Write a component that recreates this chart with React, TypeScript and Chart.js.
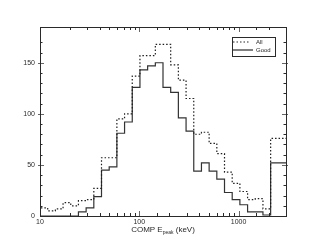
import React, { useEffect, useRef } from "react";
import { Chart, registerables } from "chart.js";

Chart.register(...registerables);

// Histogram bin edges (keV), log-uniform bins from 10 to 3000
const binEdges = [
  10, 11.95, 14.28, 17.07, 20.4, 24.38, 29.14, 34.83, 41.62, 49.74, 59.45,
  71.05, 84.91, 101.5, 121.3, 145.0, 173.2, 207.0, 247.4, 295.7, 353.4,
  422.4, 504.8, 603.3, 721.0, 861.7, 1030, 1231, 1471, 1758, 2101, 2511, 3000,
];

// Counts per bin
const allCounts = [
  14, 8, 5, 7, 13, 10, 15, 16, 27, 57, 57, 95, 100, 137, 157, 157, 168, 168,
  148, 133, 115, 80, 82, 71, 61, 43, 32, 24, 16, 17, 7, 76,
];
const goodCounts = [
  1, 0, 0, 0, 0, 0, 4, 8, 19, 45, 48, 81, 92, 126, 143, 147, 150, 126, 121,
  96, 83, 44, 52, 44, 36, 23, 16, 11, 4, 4, 1, 52,
];

const seriesNames = ["All", "Good"];
const xLabelValues = [10, 100, 1000];
const yLabelValues = [0, 50, 100, 150];
const xTitleParts = ["COMP E", "peak", " (keV)"];
const xRange = [10, 3000];
const yRange = [0, 185];

const FONT = "'Liberation Sans', Arial, Helvetica, sans-serif";
const INK = "#2a2a2a";

function stepPoints(counts: number[]) {
  return binEdges.map((e, i) => ({ x: e, y: counts[Math.min(i, counts.length - 1)] }));
}

const isDecade = (v: number) => xLabelValues.some((d) => Math.abs(d - v) < 1e-6);

const framePlugin = {
  id: "framePlugin",
  afterDatasetsDraw(chart: any) {
    const ctx = chart.ctx as CanvasRenderingContext2D;
    const { left, right, top, bottom } = chart.chartArea;
    const xs = chart.scales.x;
    const ys = chart.scales.y;
    ctx.save();
    ctx.lineWidth = 1;
    ctx.strokeStyle = INK;
    const line = (x1: number, y1: number, x2: number, y2: number) => {
      ctx.beginPath();
      ctx.moveTo(x1, y1);
      ctx.lineTo(x2, y2);
      ctx.stroke();
    };
    // x ticks (bottom and top, inward)
    for (const t of xs.ticks) {
      const v = t.value;
      if (v <= xRange[0] || v >= xRange[1]) continue;
      const px = Math.round(xs.getPixelForValue(v)) + 0.5;
      const len = isDecade(v) ? 5 : 3;
      ctx.strokeStyle = isDecade(v) ? "#666" : INK;
      line(px, bottom, px, bottom - len);
      line(px, top, px, top + len);
    }
    // y ticks (left and right, inward)
    for (const t of ys.ticks) {
      const v = t.value;
      if (v % 10 !== 0 || v <= yRange[0]) continue;
      const py = Math.round(ys.getPixelForValue(v)) + 0.5;
      const major = yLabelValues.includes(v);
      ctx.strokeStyle = major ? "#666" : INK;
      if (major) {
        line(left - 2, py, left + 4, py);
        line(right + 2, py, right - 4, py);
      } else {
        line(left, py, left + 2.5, py);
        line(right, py, right - 2.5, py);
      }
    }
    // frame
    ctx.strokeStyle = INK;
    ctx.strokeRect(Math.round(left) + 0.5, Math.round(top) + 0.5, Math.round(right - left), Math.round(bottom - top));

    // legend
    const bw = 43, bh = 19;
    const bx = Math.round(right) - 11 - bw;
    const by = Math.round(top) + 10;
    ctx.fillStyle = "#fff";
    ctx.fillRect(bx, by, bw, bh);
    ctx.strokeStyle = INK;
    ctx.strokeRect(bx + 0.5, by + 0.5, bw, bh);
    ctx.font = `6px ${FONT}`;
    ctx.fillStyle = INK;
    ctx.textBaseline = "middle";
    ctx.textAlign = "left";
    // All (dotted)
    ctx.lineWidth = 1.2;
    ctx.setLineDash([1.5, 2]);
    line(bx + 1, by + 5, bx + 17, by + 5);
    ctx.setLineDash([]);
    ctx.fillText(seriesNames[0], bx + 24, by + 5);
    // Good (solid)
    line(bx + 1, by + 13, bx + 21, by + 13);
    ctx.fillText(seriesNames[1], bx + 24, by + 13);

    // x title with subscript
    ctx.textBaseline = "alphabetic";
    const bigFont = `8px ${FONT}`;
    const smallFont = `5px ${FONT}`;
    ctx.font = bigFont;
    const w1 = ctx.measureText(xTitleParts[0]).width;
    const w3 = ctx.measureText(xTitleParts[2]).width;
    ctx.font = smallFont;
    const w2 = ctx.measureText(xTitleParts[1]).width;
    const total = w1 + w2 + w3;
    let tx = (left + right) / 2 - total / 2;
    const baseY = bottom + 16;
    ctx.font = bigFont;
    ctx.fillText(xTitleParts[0], tx, baseY);
    tx += w1;
    ctx.font = smallFont;
    ctx.fillText(xTitleParts[1], tx, baseY + 2);
    tx += w2;
    ctx.font = bigFont;
    ctx.fillText(xTitleParts[2], tx, baseY);
    ctx.restore();
  },
};

export default function App() {
  const canvasRef = useRef<HTMLCanvasElement | null>(null);

  useEffect(() => {
    if (!canvasRef.current) return;
    const chart = new Chart(canvasRef.current, {
      type: "line",
      data: {
        datasets: [
          {
            label: seriesNames[0],
            data: stepPoints(allCounts),
            stepped: "after",
            borderColor: "#1e1e1e",
            borderWidth: 1.2,
            borderDash: [1.5, 2],
            pointRadius: 0,
            fill: false,
          },
          {
            label: seriesNames[1],
            data: stepPoints(goodCounts),
            stepped: "after",
            borderColor: "#333",
            borderWidth: 1.2,
            pointRadius: 0,
            fill: false,
          },
        ],
      },
      options: {
        animation: false,
        responsive: false,
        devicePixelRatio: 1,
        parsing: false as any,
        layout: { padding: { left: 0, right: 25, top: 27, bottom: 0 } },
        plugins: { legend: { display: false }, tooltip: { enabled: false } },
        scales: {
          x: {
            type: "logarithmic",
            min: xRange[0],
            max: xRange[1],
            grid: { display: false, drawTicks: false, tickLength: 0 },
            border: { display: false },
            ticks: {
              autoSkip: false,
              maxRotation: 0,
              minRotation: 0,
              padding: 2,
              color: INK,
              font: { family: FONT, size: 7 },
              callback: (v: any) => (isDecade(Number(v)) ? String(Math.round(Number(v))) : ""),
            },
            afterFit: (s: any) => {
              s.height = 33;
            },
          },
          y: {
            type: "linear",
            min: yRange[0],
            max: yRange[1],
            grid: { display: false, drawTicks: false, tickLength: 0 },
            border: { display: false },
            ticks: {
              stepSize: 10,
              autoSkip: false,
              padding: 5,
              color: INK,
              font: { family: FONT, size: 7 },
              callback: (v: any) => (yLabelValues.includes(Number(v)) ? String(v) : ""),
            },
            afterFit: (s: any) => {
              s.width = 40;
            },
          },
        },
      },
      plugins: [framePlugin],
    });
    return () => chart.destroy();
  }, []);

  return (
    <div style={{ position: "fixed", left: 0, top: 0, width: 311, height: 249, background: "#fff" }}>
      <canvas ref={canvasRef} width={311} height={249} style={{ display: "block" }} />
    </div>
  );
}
